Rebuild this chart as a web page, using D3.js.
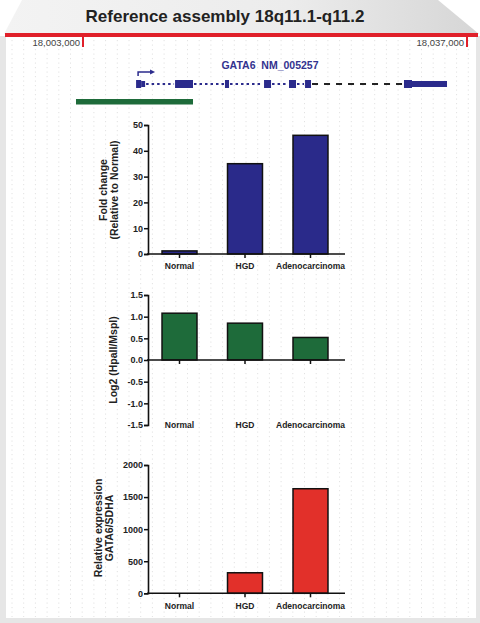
<!DOCTYPE html>
<html><head><meta charset="utf-8">
<script src="https://cdn.jsdelivr.net/npm/d3@7"></script>
<style>
html,body{margin:0;padding:0;background:#fff;}
svg{display:block;font-family:"Liberation Sans",Arial,Helvetica,sans-serif;}
</style></head>
<body>
<script>
// ---------- data ----------
const categories = ["Normal", "HGD", "Adenocarcinoma"];
const foldChange = [1.2, 35, 46];
const log2Ratio = [1.08, 0.85, 0.52];
const relExpression = [1, 320, 1630];
const foldTicks = [0, 10, 20, 30, 40, 50];
const log2Ticks = [-1.5, -1.0, -0.5, 0.0, 0.5, 1.0, 1.5];
const exprTicks = [0, 500, 1000, 1500, 2000];
const genomeStart = 18003000, genomeEnd = 18037000;
const genomeLabels = ["18,003,000", "18,037,000"];
const geneName = "GATA6  NM_005257";
// exons
const exonStarts = [18007700, 18008150, 18011150, 18015570, 18019030, 18021240, 18022660, 18031420, 18032130];
const exonEnds   = [18008150, 18008500, 18012740, 18015930, 18019650, 18021860, 18023190, 18032130, 18035230];
const exonCoding = [1, 0, 1, 1, 1, 1, 1, 1, 0];
const cpgRegion = [18002380, 18012740];

const W = 480, H = 623;
const svg = d3.select("body").append("svg").attr("width", W).attr("height", H);
const defs = svg.append("defs");
const grad = defs.append("linearGradient").attr("id", "topg").attr("x1", "0").attr("x2", "1");
grad.append("stop").attr("offset", "0").attr("stop-color", "#f3f3f3");
grad.append("stop").attr("offset", "0.6").attr("stop-color", "#ececec");
grad.append("stop").attr("offset", "1").attr("stop-color", "#d6d6d6");

// frame
svg.append("rect").attr("x", 0).attr("y", 0).attr("width", W).attr("height", H).attr("fill", "#fff");
svg.append("rect").attr("x", 0).attr("y", 36).attr("width", W).attr("height", H - 36).attr("fill", "#e6e6e6");
svg.append("rect").attr("x", 6).attr("y", 36).attr("width", 470).attr("height", 582).attr("fill", "#fff");
svg.append("polygon").attr("points", "22,0 438,0 479,34 4,34").attr("fill", "url(#topg)");

// dotted grid
const gridX = d3.range(12, 476, 11.7);
svg.append("g").selectAll("line").data(gridX).join("line")
  .attr("x1", d => d).attr("x2", d => d).attr("y1", 40).attr("y2", 617)
  .attr("stroke", "#e2e2e2").attr("stroke-width", 1).attr("stroke-dasharray", "1.2,3.3");

// title
svg.append("text").attr("x", 225).attr("y", 22).attr("text-anchor", "middle")
  .attr("font-size", 17).attr("font-weight", "bold").attr("fill", "#222")
  .text("Reference assembly 18q11.1-q11.2");

// red line
svg.append("rect").attr("x", 5).attr("y", 33).attr("width", 473).attr("height", 4).attr("fill", "#e0202a");

const gx = d3.scaleLinear().domain([genomeStart, genomeEnd]).range([83, 467]);
[genomeStart, genomeEnd].forEach((g, i) => {
  svg.append("rect").attr("x", gx(g) - 1).attr("y", 37).attr("width", 2).attr("height", 10).attr("fill", "#e0202a");
  svg.append("text").attr("x", gx(g) - 3).attr("y", 46).attr("text-anchor", "end")
    .attr("font-size", 9.5).attr("fill", "#444").text(genomeLabels[i]);
});

// gene
const navy = "#2b2b8c";
svg.append("text").attr("x", 270).attr("y", 69).attr("text-anchor", "middle")
  .attr("font-size", 10.5).attr("font-weight", "bold").attr("fill", "#33338f")
  .style("white-space", "pre").text(geneName);
const geneY = 84;
const exCount = exonStarts.length;
for (let i = 0; i < exCount - 1; i++) {
  const a = exonEnds[i], b = exonStarts[i + 1];
  if (b <= a) continue;
  const longDash = (i === 6);
  svg.append("line").attr("x1", gx(a) + 1).attr("x2", gx(b) - 1).attr("y1", geneY).attr("y2", geneY)
    .attr("stroke", longDash ? "#222" : navy).attr("stroke-width", 2)
    .attr("stroke-dasharray", longDash ? "6,6" : "2.5,3");
}
svg.append("g").selectAll("rect").data(d3.range(exCount)).join("rect")
  .attr("x", i => gx(exonStarts[i])).attr("width", i => gx(exonEnds[i]) - gx(exonStarts[i]))
  .attr("y", i => exonCoding[i] ? geneY - 4 : geneY - 3)
  .attr("height", i => exonCoding[i] ? 8 : 6).attr("fill", navy);
const tx = gx(exonStarts[0]) + 2;
svg.append("path").attr("d", `M${tx},${geneY - 8}V${geneY - 12}H${tx + 13}`)
  .attr("fill", "none").attr("stroke", navy).attr("stroke-width", 1.5);
svg.append("path").attr("d", `M${tx + 12},${geneY - 14.5}L${tx + 17},${geneY - 12}L${tx + 12},${geneY - 9.5}Z`).attr("fill", navy);
svg.append("rect").attr("x", gx(cpgRegion[0])).attr("width", gx(cpgRegion[1]) - gx(cpgRegion[0]))
  .attr("y", 99).attr("height", 5.5).attr("fill", "#1e6b3a");

// ---------- bar charts ----------
const x = d3.scaleBand().domain(categories).range([148, 342]).paddingInner(0.466).paddingOuter(0.214);
const xAxisEnd = 345;

function barChart(opts) {
  const { values, ticks, y, fill, fmt, titles, titleX, titleY, labelY } = opts;
  const g = svg.append("g");
  g.selectAll("rect").data(values).join("rect")
    .attr("x", (d, i) => x(categories[i])).attr("width", x.bandwidth())
    .attr("y", d => y(Math.max(0, d))).attr("height", d => Math.abs(y(d) - y(0)))
    .attr("fill", fill)
    .attr("stroke", d => Math.abs(y(d) - y(0)) < 0.5 ? "none" : "#111").attr("stroke-width", 1.5);
  const ya = g.append("g").attr("transform", `translate(148,0)`)
    .call(d3.axisLeft(y).tickValues(ticks).tickSize(4).tickPadding(1).tickFormat(fmt));
  ya.select(".domain").attr("stroke", "#111").attr("stroke-width", 1.6);
  ya.selectAll(".tick line").attr("stroke", "#111").attr("stroke-width", 1.5);
  ya.selectAll("text").attr("font-size", 9).attr("font-weight", "bold").attr("fill", "#222")
    .attr("font-family", "Liberation Sans, Arial, sans-serif");
  const y0 = y(0);
  g.append("line").attr("x1", 147).attr("x2", xAxisEnd).attr("y1", y0).attr("y2", y0)
    .attr("stroke", "#111").attr("stroke-width", 1.6);
  g.selectAll(".xt").data(categories).join("line").attr("class", "xt")
    .attr("x1", d => x(d) + x.bandwidth() / 2).attr("x2", d => x(d) + x.bandwidth() / 2)
    .attr("y1", y0).attr("y2", y0 + 4).attr("stroke", "#111").attr("stroke-width", 1.5);
  g.selectAll(".xl").data(categories).join("text").attr("class", "xl")
    .attr("x", d => x(d) + x.bandwidth() / 2).attr("y", labelY).attr("text-anchor", "middle")
    .attr("font-size", 8.5).attr("font-weight", "bold").attr("fill", "#222").text(d => d);
  titles.forEach((t, i) => {
    g.append("text").attr("transform", `translate(${titleX[i]},${titleY}) rotate(-90)`)
      .attr("text-anchor", "middle").attr("font-size", 10.5).attr("font-weight", "bold")
      .attr("fill", "#222").text(t);
  });
}

barChart({
  values: foldChange, ticks: foldTicks,
  y: d3.scaleLinear().domain([0, 50]).range([254, 125]),
  fill: "#2a2a8a", fmt: d3.format("d"),
  titles: ["Fold change", "(Relative to Normal)"], titleX: [107, 118], titleY: 190, labelY: 269
});
barChart({
  values: log2Ratio, ticks: log2Ticks,
  y: d3.scaleLinear().domain([-1.5, 1.5]).range([425, 295]),
  fill: "#1e6b3a", fmt: d => d.toFixed(1),
  titles: ["Log2 (HpaII/MspI)"], titleX: [117], titleY: 360, labelY: 428
});
barChart({
  values: relExpression, ticks: exprTicks,
  y: d3.scaleLinear().domain([0, 2000]).range([593.3, 465]),
  fill: "#e2302a", fmt: d3.format("d"),
  titles: ["Relative expression", "GATA6/SDHA"], titleX: [102, 113], titleY: 528, labelY: 609
});
</script>
</body></html>
